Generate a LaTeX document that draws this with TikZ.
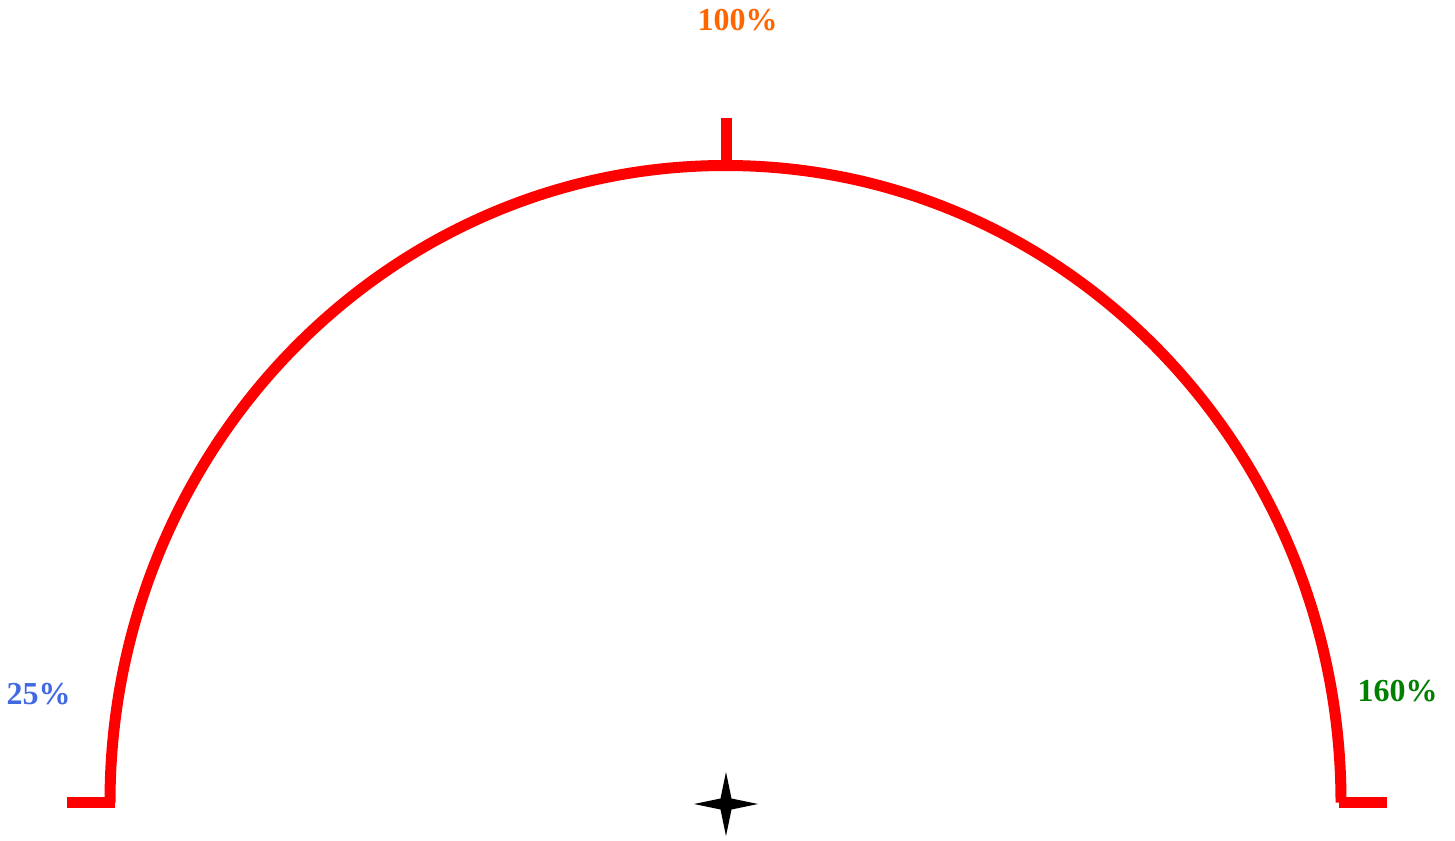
\documentclass[tikz,border=0pt]{standalone}
\usepackage{fontspec}
\setmainfont{Liberation Serif}
\usetikzlibrary{calc}
\definecolor{arcred}{RGB}{255,0,0}
\definecolor{lblorange}{RGB}{255,102,0}
\definecolor{lblblue}{RGB}{65,105,225}
\definecolor{lblgreen}{RGB}{0,128,0}
\tikzset{
  gauge/.style={draw=arcred, line width=11pt},
  pct/.style={font=\bfseries\fontsize{32}{36}\selectfont, inner sep=0pt, anchor=center},
}
\begin{document}
\begin{tikzpicture}[x=1pt,y=-1pt]
\useasboundingbox (0,0) rectangle (1455,840);
% arc end points and ticks
\coordinate (L) at (110,802.5);
\coordinate (R) at (1341,802.5);
\coordinate (Lt) at (67,802.5);
\coordinate (Lt2) at (115,802.5);
\coordinate (Rt) at (1339,802.5);
\coordinate (Rt2) at (1387,802.5);
\coordinate (Tt) at (726,118);
\coordinate (Tt2) at (726,162);
\coordinate (C) at (726,804);
% arc
\draw[gauge] (L) arc[start angle=180, end angle=0, x radius=615.5pt, y radius=637pt];
% ticks
\draw[gauge] (Lt) -- (Lt2);
\draw[gauge] (Rt) -- (Rt2);
\draw[gauge] (Tt) -- (Tt2);
% star
\fill[black] ($(C)+(0,-32)$) -- ($(C)+(5.5,-5.5)$) -- ($(C)+(32,0)$) -- ($(C)+(5.5,5.5)$) -- ($(C)+(0,32)$) -- ($(C)+(-5.5,5.5)$) -- ($(C)+(-32,0)$) -- ($(C)+(-5.5,-5.5)$) -- cycle;
% labels
\node[pct, text=lblorange] (top) at (737.5,20) {100\%};
\node[pct, text=lblblue] (left) at (38.5,694) {25\%};
\node[pct, text=lblgreen] (right) at (1397.5,691) {160\%};
\end{tikzpicture}
\end{document}
